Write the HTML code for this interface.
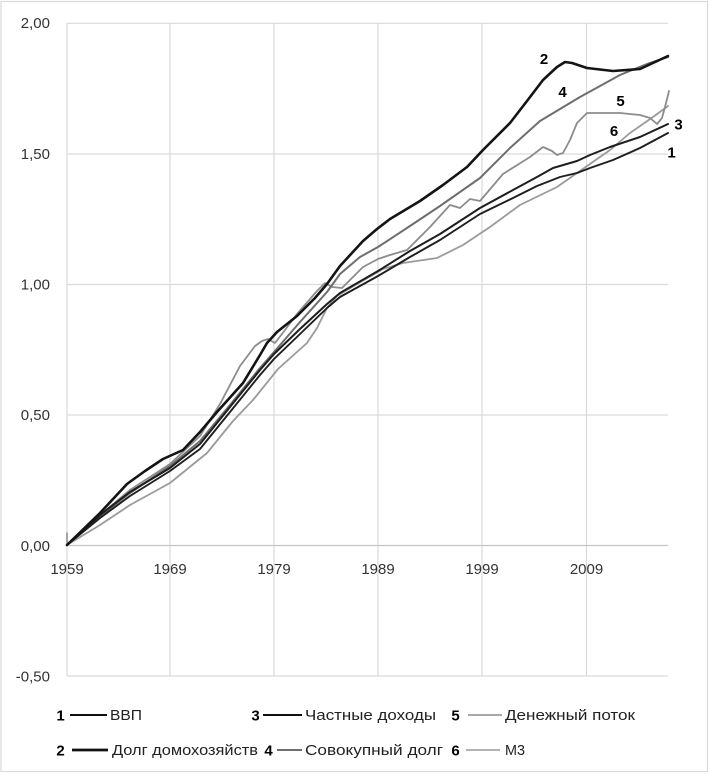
<!DOCTYPE html>
<html><head><meta charset="utf-8"><style>
html,body{margin:0;padding:0;background:#fff;}
svg{display:block;}
text{font-family:"Liberation Sans","DejaVu Sans",sans-serif;}
</style></head><body>
<svg width="710" height="774" viewBox="0 0 710 774" xmlns="http://www.w3.org/2000/svg">
<rect x="0" y="0" width="710" height="774" fill="#fff"/>
<rect x="1" y="1.5" width="706.5" height="770" fill="none" stroke="#d9d9d9" stroke-width="1.2"/>
<!-- gridlines -->
<g stroke="#d9d9d9" stroke-width="1.2" fill="none">
<line x1="67" y1="23.3" x2="668" y2="23.3"/>
<line x1="67" y1="154" x2="668" y2="154"/>
<line x1="67" y1="284.5" x2="668" y2="284.5"/>
<line x1="67" y1="415" x2="668" y2="415"/>
<line x1="67" y1="676" x2="668" y2="676"/>
<line x1="67" y1="23" x2="67" y2="676"/>
<line x1="170" y1="23" x2="170" y2="676"/>
<line x1="274" y1="23" x2="274" y2="676"/>
<line x1="378" y1="23" x2="378" y2="676"/>
<line x1="482" y1="23" x2="482" y2="676"/>
<line x1="586.5" y1="23" x2="586.5" y2="676"/>
</g>
<line x1="67" y1="545.5" x2="668" y2="545.5" stroke="#c4c4c4" stroke-width="1.3"/>
<!-- y labels -->
<g font-size="15" fill="#333" text-anchor="end">
<text x="50" y="28">2,00</text>
<text x="50" y="159">1,50</text>
<text x="50" y="289.5">1,00</text>
<text x="50" y="420">0,50</text>
<text x="50" y="551">0,00</text>
<text x="50" y="681.5">-0,50</text>
</g>
<!-- x labels -->
<g font-size="15" fill="#333" text-anchor="middle">
<text x="67" y="574">1959</text>
<text x="170" y="574">1969</text>
<text x="274" y="574">1979</text>
<text x="378" y="574">1989</text>
<text x="482" y="574">1999</text>
<text x="586.5" y="574">2009</text>
</g>
<!-- series -->
<g fill="none" stroke-linejoin="round" stroke-linecap="round">
<line x1="67" y1="533" x2="67" y2="545" stroke="#888" stroke-width="1.5"/>
<!-- 6 M3 -->
<polyline stroke="#9a9a9a" stroke-width="1.8" points="67,545 100,525 130,505 170,483 207,453 233,421 253,400 278,369 307,343 317,328 327,308 337,296 357,284 383,269 403,263 437,258 463,245 490,227 520,205 557,187 577,173 610,150 630,133 653,117 668,106"/>
<!-- 5 money flow -->
<polyline stroke="#8c8c8c" stroke-width="1.8" points="67,545 100,515 130,490 170,464 200,436 220,404 240,366 255,346 262,341 268,339 275,343 285,330 297,314 317,291 325,283 332,287 342,288 363,267 378,259 390,255 407,250 430,227 450,205 460,208 470,199 480,201 503,174 530,157 543,147 552,151 557,155 563,153 570,140 577,123 587,113 610,113 620,113 640,115 650,118 657,124 662,118 665,107 669,91"/>
<!-- 4 total debt -->
<polyline stroke="#6e6e6e" stroke-width="2" points="67,545 100,516 130,493 170,466 200,441 230,405 260,368 274,352 300,322 327,292 340,274 360,257 378,247 410,226 440,206 480,178 510,148 540,121 580,97 620,75 647,64 668,57"/>
<!-- 1 GDP -->
<polyline stroke="#1e1e1e" stroke-width="1.9" points="67,545 100,518 130,496 170,471 200,449 230,412 260,375 274,359 300,334 327,308 340,297 378,276 410,257 440,240 480,214 513,198 537,186 560,177 577,173 590,168 613,160 640,148 668,133"/>
<!-- 3 private income -->
<polyline stroke="#1e1e1e" stroke-width="2" points="67,545 100,515 130,492 170,468 200,444 230,407 260,370 274,354 300,329 327,304 340,293 378,271 410,251 440,234 480,208 513,190 537,177 553,168 577,161 590,155 610,147 640,137 668,124"/>
<!-- 2 household debt -->
<polyline stroke="#141414" stroke-width="2.6" points="67,545 100,513 127,484 145,471 163,459 183,450 200,432 217,412 243,383 260,355 267,343 277,332 297,316 315,298 327,284 340,266 363,241 377,229 390,219 420,201 443,185 467,167 483,150 510,123 527,101 543,80 557,67 565,62 572,63 587,68 613,71 640,69 668,56"/>
</g>
<!-- series labels -->
<g font-size="15" font-weight="bold" fill="#000" text-anchor="middle">
<text x="544" y="64">2</text>
<text x="562.5" y="97">4</text>
<text x="620.5" y="106">5</text>
<text x="614" y="136">6</text>
<text x="678.5" y="129.5">3</text>
<text x="671.5" y="157.5">1</text>
</g>
<!-- legend -->
<g font-size="15" font-weight="bold" fill="#000" text-anchor="middle">
<text x="60.5" y="720.5">1</text>
<text x="255.5" y="720.5">3</text>
<text x="455.5" y="720.5">5</text>
<text x="60.5" y="755.5">2</text>
<text x="268.5" y="755.5">4</text>
<text x="455.5" y="755.5">6</text>
</g>
<g fill="none">
<line x1="70" y1="715" x2="107" y2="715" stroke="#111" stroke-width="2"/>
<line x1="263" y1="715" x2="302" y2="715" stroke="#111" stroke-width="2"/>
<line x1="468" y1="715" x2="502" y2="715" stroke="#8c8c8c" stroke-width="1.6"/>
<line x1="72" y1="750" x2="108" y2="750" stroke="#111" stroke-width="2.8"/>
<line x1="277" y1="750" x2="302" y2="750" stroke="#6e6e6e" stroke-width="2"/>
<line x1="466" y1="750" x2="500" y2="750" stroke="#9a9a9a" stroke-width="1.6"/>
</g>
<g font-size="14.5" fill="#222">
<text x="110" y="720" textLength="32" lengthAdjust="spacingAndGlyphs">ВВП</text>
<text x="305" y="720" textLength="131" lengthAdjust="spacingAndGlyphs">Частные доходы</text>
<text x="505" y="720" textLength="130" lengthAdjust="spacingAndGlyphs">Денежный поток</text>
<text x="112" y="755" textLength="146" lengthAdjust="spacingAndGlyphs">Долг домохозяйств</text>
<text x="305" y="755" textLength="138" lengthAdjust="spacingAndGlyphs">Совокупный долг</text>
<text x="505" y="755" textLength="20" lengthAdjust="spacingAndGlyphs">М3</text>
</g>
</svg>
</body></html>
